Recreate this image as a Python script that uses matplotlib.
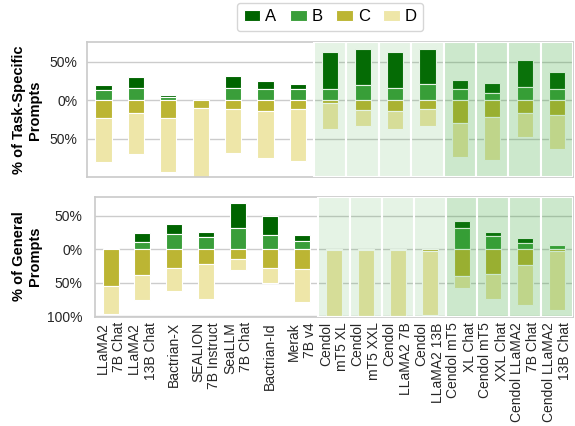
import numpy as np
import matplotlib
matplotlib.use("Agg")
import matplotlib.pyplot as plt
from matplotlib.colors import to_rgba

plt.rcParams['font.family'] = ['Liberation Sans', 'DejaVu Sans']

models = ['LLaMA2\n7B Chat', 'LLaMA2\n13B Chat', 'Bactrian-X', 'SEALION\n7B Instruct',
          'SeaLLM\n7B Chat', 'Bactrian-Id', 'Merak\n7B v4', 'Cendol\nmT5 XL',
          'Cendol\nmT5 XXL', 'Cendol\nLLaMA2 7B', 'Cendol\nLLaMA2 13B',
          'Cendol mT5\nXL Chat', 'Cendol mT5\nXXL Chat', 'Cendol LLaMA2\n7B Chat',
          'Cendol LLaMA2\n13B Chat']
labels = ['A', 'B', 'C', 'D']

# task-specific prompts (% of responses per grade)
task_A = [7.0, 15.1, 3.2, 0.0, 16.0, 11.3, 7.0, 48.3, 47.4, 47.3, 46.1, 12.2, 13.1, 34.9, 22.4]
task_B = [13.3, 15.5, 4.3, 0.0, 15.5, 14.2, 14.2, 15.0, 19.7, 15.5, 20.6, 14.6, 9.4, 17.6, 14.2]
task_C = [23.2, 16.7, 22.3, 10.3, 11.6, 13.7, 11.2, 3.4, 12.9, 13.7, 11.6, 28.8, 21.9, 16.7, 19.3]
task_D = [56.5, 52.7, 70.2, 89.7, 56.9, 60.8, 67.6, 33.3, 20.0, 23.5, 21.7, 44.4, 55.6, 30.8, 44.1]

# general prompts
gen_A = [0.0, 13.6, 14.6, 6.7, 36.6, 27.6, 8.7, 0.0, 0.0, 0.0, 0.0, 10.3, 5.4, 7.5, 1.0]
gen_B = [1.5, 10.0, 22.4, 18.4, 32.3, 21.4, 12.4, 0.0, 0.0, 0.0, 0.0, 31.3, 20.4, 8.6, 6.5]
gen_C = [54.7, 38.3, 27.9, 22.4, 14.4, 27.9, 29.9, 1.5, 0.5, 0.5, 3.0, 39.3, 37.3, 23.7, 2.5]
gen_D = [41.6, 38.1, 35.1, 52.5, 16.7, 22.6, 49.0, 98.5, 99.5, 99.5, 95.5, 19.1, 37.0, 60.2, 88.0]

colors = ['#006400', '#3a9e3a', '#bcb533', '#eee6a8']
grey = '#cccccc'


def draw_panel(ax, A, B, C, D):
    x = np.arange(len(models))
    A, B, C, D = map(np.array, (A, B, C, D))
    w = 0.5
    kw = dict(width=w, edgecolor='white', linewidth=0.8, zorder=2)
    bars = []
    bars.append(ax.bar(x, A, bottom=B, color=colors[0], label='A', **kw))
    bars.append(ax.bar(x, B, color=colors[1], label='B', **kw))
    bars.append(ax.bar(x, -C, color=colors[2], label='C', **kw))
    bars.append(ax.bar(x, -D, bottom=-C, color=colors[3], label='D', **kw))

    # shaded model groups
    for i in range(7, 11):
        ax.axvspan(i - 0.5, i + 0.5, facecolor=to_rgba('tab:green', 0.12),
                   edgecolor='white', linewidth=1.5, zorder=3)
    for i in range(11, 15):
        ax.axvspan(i - 0.5, i + 0.5, facecolor=to_rgba('tab:green', 0.24),
                   edgecolor='white', linewidth=1.5, zorder=3)

    ax.set_xlim(-0.5, len(models) - 0.5)
    ax.yaxis.grid(True, color=grey, linewidth=1, zorder=0)
    ax.set_axisbelow(True)
    for s in ax.spines.values():
        s.set_color(grey)
        s.set_linewidth(1.25)
    ax.tick_params(length=0, labelsize=10, labelcolor='#262626')
    return bars


fig = plt.figure(figsize=(5.75, 4.26), dpi=100)
ax1 = fig.add_axes([0.1518, 0.5852, 0.8451, 0.3169])
ax2 = fig.add_axes([0.1645, 0.2566, 0.8324, 0.2803])

bars = draw_panel(ax1, task_A, task_B, task_C, task_D)
draw_panel(ax2, gen_A, gen_B, gen_C, gen_D)

ax1.set_ylim(-99, 76)
ax1.set_yticks([-50, 0, 50])
ax1.set_yticklabels(['50%', '0%', '50%'])
ax1.set_xticks([])
ax1.tick_params(axis='y', pad=7)

ax2.set_ylim(-100.6, 77.4)
ax2.set_yticks([-100, -50, 0, 50])
ax2.set_yticklabels(['100%', '50%', '0%', '50%'])
ax2.set_xticks(np.arange(len(models)))
ax2.set_xticklabels(models, rotation=90, multialignment='right')
ax2.tick_params(axis='y', pad=8.5)
ax2.tick_params(axis='x', pad=4)

fig.text(0.047, 0.742, '% of Task-Specific\nPrompts', rotation=90, ha='center',
         va='center', fontsize=10.5, fontweight='bold', multialignment='center')
fig.text(0.047, 0.398, '% of General\nPrompts', rotation=90, ha='center',
         va='center', fontsize=10.5, fontweight='bold', multialignment='center')

leg = ax1.legend(bars, labels, loc='upper center', bbox_to_anchor=(0.5, 1.29),
                 ncol=4, fontsize=12, handlelength=1.0, handleheight=0.7,
                 handletextpad=0.3, columnspacing=0.8, borderaxespad=0,
                 frameon=True, fancybox=True, edgecolor=grey)
leg.get_frame().set_linewidth(1.0)

fig.savefig('out.png', dpi=100)
